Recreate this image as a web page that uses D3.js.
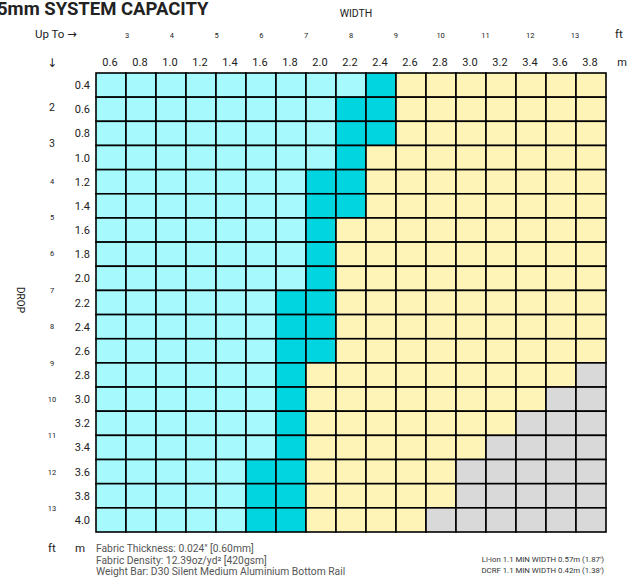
<!DOCTYPE html>
<html lang="en">
<head>
<meta charset="UTF-8">
<title>System Capacity</title>
<script src="https://d3js.org/d3.v7.min.js"></script>
<style>
  body { margin: 0; background: #fff; }
  text { font-family: Roboto, "DejaVu Sans", sans-serif; }
</style>
</head>
<body>
<div id="chart"></div>
<script>
// widths (m) across the top, drops (m) down the side
const widths = [0.6, 0.8, 1.0, 1.2, 1.4, 1.6, 1.8, 2.0, 2.2, 2.4, 2.6, 2.8, 3.0, 3.2, 3.4, 3.6, 3.8];
const drops = [0.4, 0.6, 0.8, 1.0, 1.2, 1.4, 1.6, 1.8, 2.0, 2.2, 2.4, 2.6, 2.8, 3.0, 3.2, 3.4, 3.6, 3.8, 4.0];
const widthFt = [3, 4, 5, 6, 7, 8, 9, 10, 11, 12, 13];
const dropFt = [2, 3, 4, 5, 6, 7, 8, 9, 10, 11, 12, 13];

// per drop: largest width in each zone (light cyan, dark cyan, yellow); wider = grey
const lightMax = [2.2, 2.0, 2.0, 2.0, 1.8, 1.8, 1.8, 1.8, 1.8, 1.6, 1.6, 1.6, 1.6, 1.6, 1.6, 1.6, 1.4, 1.4, 1.4];
const darkMax  = [2.4, 2.4, 2.4, 2.2, 2.2, 2.2, 2.0, 2.0, 2.0, 2.0, 2.0, 2.0, 1.8, 1.8, 1.8, 1.8, 1.8, 1.8, 1.8];
const yellowMax = [3.8, 3.8, 3.8, 3.8, 3.8, 3.8, 3.8, 3.8, 3.8, 3.8, 3.8, 3.8, 3.6, 3.4, 3.2, 3.0, 2.8, 2.8, 2.6];

const footLines = [
    'Fabric Thickness: 0.024" [0.60mm]',
    'Fabric Density: 12.39oz/yd\u00B2 [420gsm]',
    'Weight Bar: D30 Silent Medium Aluminium Bottom Rail'
];
const noteLines = [
    "Li-ion 1.1 MIN WIDTH 0.57m (1.87')",
    "DCRF 1.1 MIN WIDTH 0.42m (1.38')"
];

const W = 639, H = 582;
const colors = { light: '#a6fafd', dark: '#00d5e0', yellow: '#fff4b7', grey: '#d9d9d9' };

const svg = d3.select('#chart').append('svg')
    .attr('width', W).attr('height', H);

const x = d3.scaleBand().domain(widths).range([96, 606]);
const y = d3.scaleBand().domain(drops).range([73, 532]);

// rows -> cells
const cells = [];
drops.forEach((d, i) => {
    widths.forEach(w => {
        let zone = 'grey';
        if (w <= lightMax[i] + 1e-9) zone = 'light';
        else if (w <= darkMax[i] + 1e-9) zone = 'dark';
        else if (w <= yellowMax[i] + 1e-9) zone = 'yellow';
        cells.push({ drop: d, width: w, zone: zone });
    });
});

svg.append('g').selectAll('rect')
    .data(cells)
    .join('rect')
    .attr('x', d => x(d.width))
    .attr('y', d => y(d.drop))
    .attr('width', x.bandwidth())
    .attr('height', y.bandwidth())
    .attr('fill', d => colors[d.zone])
    .attr('stroke', '#000')
    .attr('stroke-width', 1.6);

// title (left edge is clipped in the original too)
svg.append('text')
    .attr('x', -3).attr('y', 15)
    .attr('font-size', 18.5).attr('font-weight', 'bold')
    .attr('fill', '#222')
    .text('5mm SYSTEM CAPACITY');

svg.append('text')
    .attr('x', 356).attr('y', 17)
    .attr('text-anchor', 'middle')
    .attr('font-size', 10.5).attr('fill', '#222')
    .text('WIDTH');

svg.append('text')
    .attr('x', 35).attr('y', 38)
    .attr('font-size', 11.5).attr('fill', '#222')
    .text('Up To  \u2192');

svg.append('text')
    .attr('x', 52).attr('y', 67)
    .attr('text-anchor', 'middle')
    .attr('font-size', 12).attr('fill', '#222')
    .text('\u2193');

// top ft labels
const xFt = d3.scaleLinear().domain([3, 13]).range([127, 575]);
svg.append('g').selectAll('text')
    .data(widthFt)
    .join('text')
    .attr('x', d => xFt(d)).attr('y', 38)
    .attr('text-anchor', 'middle')
    .attr('font-size', 7.5).attr('fill', '#222')
    .text(d => d);
svg.append('text')
    .attr('x', 619).attr('y', 38)
    .attr('text-anchor', 'middle')
    .attr('font-size', 11.5).attr('fill', '#222')
    .text('ft');

// top m labels
svg.append('g').selectAll('text')
    .data(widths)
    .join('text')
    .attr('x', d => x(d) + x.bandwidth() / 2 - 1).attr('y', 66)
    .attr('text-anchor', 'middle')
    .attr('font-size', 11).attr('fill', '#222')
    .text(d => d.toFixed(1));
svg.append('text')
    .attr('x', 622).attr('y', 66)
    .attr('text-anchor', 'middle')
    .attr('font-size', 11).attr('fill', '#222')
    .text('m');

// left m labels
svg.append('g').selectAll('text')
    .data(drops)
    .join('text')
    .attr('x', 90).attr('y', d => y(d) + y.bandwidth() / 2 + 4)
    .attr('text-anchor', 'end')
    .attr('font-size', 11).attr('fill', '#222')
    .text(d => d.toFixed(1));

// left ft labels
const yFt = d3.scaleLinear().domain([2, 13]).range([108, 508]);
svg.append('g').selectAll('text')
    .data(dropFt)
    .join('text')
    .attr('x', 52).attr('y', d => yFt(d) + 3)
    .attr('text-anchor', 'middle')
    .attr('font-size', d => d < 4 ? 10.5 : 7.5).attr('fill', '#222')
    .text(d => d);

svg.append('text')
    .attr('transform', 'translate(17,300) rotate(90)')
    .attr('text-anchor', 'middle')
    .attr('font-size', 10).attr('fill', '#222')
    .text('DROP');

svg.append('text')
    .attr('x', 52).attr('y', 552)
    .attr('text-anchor', 'middle')
    .attr('font-size', 11.5).attr('fill', '#222')
    .text('ft');
svg.append('text')
    .attr('x', 80).attr('y', 552)
    .attr('text-anchor', 'middle')
    .attr('font-size', 11.5).attr('fill', '#222')
    .text('m');

// footer
svg.append('g').selectAll('text')
    .data(footLines)
    .join('text')
    .attr('x', 96).attr('y', (d, i) => 552 + i * 11.5)
    .attr('font-size', 10.3).attr('fill', '#555')
    .text(d => d);

svg.append('g').selectAll('text')
    .data(noteLines)
    .join('text')
    .attr('x', 604).attr('y', (d, i) => 562 + i * 11)
    .attr('text-anchor', 'end')
    .attr('font-size', 7.8).attr('fill', '#333')
    .text(d => d);
</script>
</body>
</html>
